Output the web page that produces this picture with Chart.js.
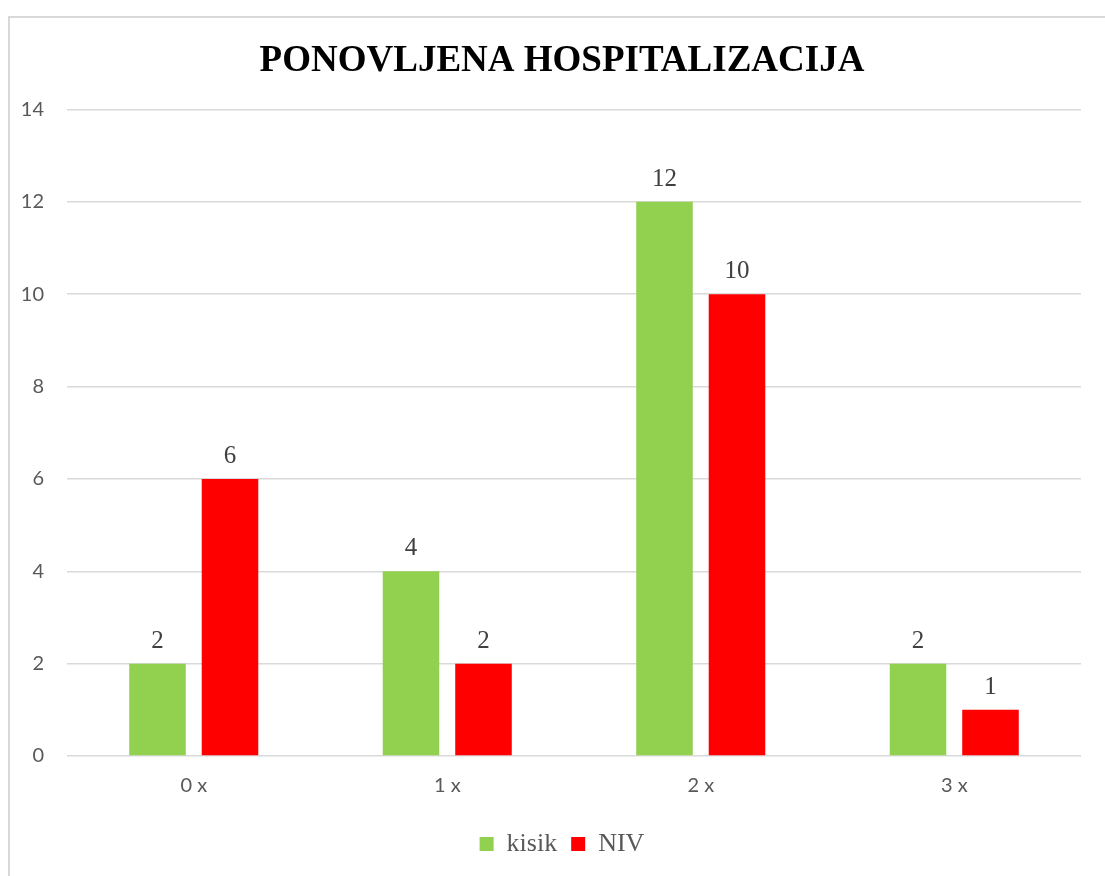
<!DOCTYPE html>
<html>
<head>
<meta charset="utf-8">
<script src="https://cdn.jsdelivr.net/npm/chart.js@4/dist/chart.umd.min.js"></script>
<style>
  body { margin: 0; background: #fff; overflow: hidden; }
  #frame { position: absolute; left: 8px; top: 16px; width: 1110px; height: 880px; border: 2px solid #d9d9d9; }
  #wrap { position: absolute; left: 0; top: 0; width: 1105px; height: 876px; overflow: hidden; }
</style>
</head>
<body>
<div id="frame"></div>
<div id="wrap"><canvas id="myChart" width="1124" height="876"></canvas></div>
<script>
const categories = ['0 x', '1 x', '2 x', '3 x'];
const kisikValues = [2, 4, 12, 2];
const nivValues = [6, 2, 10, 1];
const yTicks = [0, 2, 4, 6, 8, 10, 12, 14];

// value labels above each bar
const barLabels = {
    id: 'barLabels',
    afterDatasetsDraw(chart) {
        const ctx = chart.ctx;
        ctx.save();
        ctx.font = '25px "Liberation Serif"';
        ctx.fillStyle = '#404040';
        ctx.textAlign = 'center';
        ctx.textBaseline = 'alphabetic';
        chart.data.datasets.forEach((ds, i) => {
            chart.getDatasetMeta(i).data.forEach((bar, j) => {
                ctx.fillText(ds.data[j], bar.x, bar.y - 16);
            });
        });
        ctx.restore();
    }
};

new Chart("myChart", {
    type: "bar",
    data: {
        labels: categories,
        datasets: [
            { label: 'kisik', data: kisikValues, backgroundColor: '#92d050', borderWidth: 0 },
            { label: 'NIV', data: nivValues, backgroundColor: '#ff0000', borderWidth: 0 }
        ]
    },
    options: {
        responsive: false,
        animation: false,
        categoryPercentage: 0.572,
        barPercentage: 0.78,
        layout: { padding: { left: 0, right: 0, top: 0, bottom: 9 } },
        plugins: {
            title: {
                display: true,
                text: 'PONOVLJENA HOSPITALIZACIJA',
                color: '#000',
                font: { family: '"Liberation Serif"', size: 37, weight: 'bold' },
                padding: { top: 39, bottom: 26 }
            },
            legend: {
                position: 'bottom',
                labels: {
                    boxWidth: 14,
                    boxHeight: 14,
                    color: '#595959',
                    padding: 14,
                    font: { family: '"Liberation Serif"', size: 26 }
                }
            },
            tooltip: { enabled: false }
        },
        scales: {
            x: {
                grid: { display: false },
                border: { display: false },
                ticks: { color: '#595959', font: { family: 'Lato', size: 20 }, padding: 10 },
                afterFit(scale) { scale.height = 61; }
            },
            y: {
                min: 0,
                max: 14,
                afterBuildTicks(scale) { scale.ticks = yTicks.map(v => ({ value: v })); },
                grid: { color: '#d9d9d9', lineWidth: 1.5, drawTicks: false },
                border: { display: false },
                ticks: { color: '#595959', font: { family: 'Lato', size: 20 }, padding: 23 },
                afterFit(scale) { scale.width = 67; }
            },
            yRight: {
                position: 'right',
                min: 0,
                max: 14,
                grid: { display: false, drawTicks: false },
                border: { display: false },
                ticks: { display: false },
                afterFit(scale) { scale.width = 43; }
            }
        }
    },
    plugins: [barLabels]
});
</script>
</body>
</html>
